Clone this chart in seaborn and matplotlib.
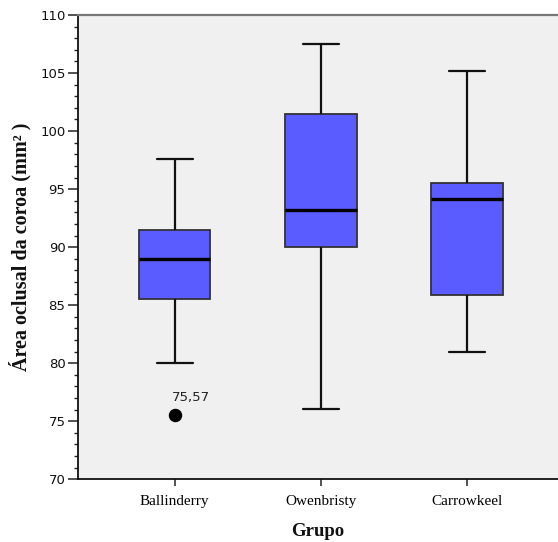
import seaborn as sns
import pandas as pd
import matplotlib.pyplot as plt
from matplotlib.ticker import MultipleLocator

# Data (five-number summaries)
groups = ["Ballinderry", "Owenbristy", "Carrowkeel"]
whisker_low = [80.0, 76.05, 81.0]
q1 = [85.55, 90.04, 85.9]
median = [88.98, 93.2, 94.17]
q3 = [91.47, 101.46, 95.55]
whisker_high = [97.6, 107.5, 105.18]

outlier_group = "Ballinderry"
outlier_value = 75.57
outlier_label = "75,57"

# Long table: five values per group give exactly these quartiles
rows = []
for i, g in enumerate(groups):
    for v in (whisker_low[i], q1[i], median[i], q3[i], whisker_high[i]):
        rows.append({"Grupo": g, "valor": v})
df = pd.DataFrame(rows)

sns.set_theme(style="white")
plt.rcParams["font.family"] = ["DejaVu Sans"]

fig = plt.figure(figsize=(5.58, 5.42), dpi=100)
ax = fig.add_axes([78 / 558, 1 - 479.3 / 542, 480 / 558, (479.3 - 15) / 542])
ax.set_facecolor("#f0f0f0")

sns.boxplot(
    data=df, x="Grupo", y="valor", order=groups, ax=ax,
    color="#5a5cff", saturation=1, width=0.49, whis=1.5,
    linecolor="#222222", linewidth=1.6, fliersize=0,
    boxprops={"edgecolor": "#333333", "linewidth": 1.3},
    whiskerprops={"color": "#111111", "linewidth": 1.6},
    capprops={"color": "#111111", "linewidth": 1.6},
    medianprops={"color": "black", "linewidth": 2.4},
)

# Outlier point and its label
xo = groups.index(outlier_group)
ax.scatter([xo], [outlier_value], s=75, color="black", zorder=5)
ax.text(xo - 0.02, outlier_value + 0.9, outlier_label, fontsize=9.5,
        color="#222222", ha="left", va="bottom")

ax.set_ylim(70, 110)
ax.set_xlim(-0.66, 2.62)
ax.yaxis.set_major_locator(MultipleLocator(5))
ax.yaxis.set_minor_locator(MultipleLocator(1))
ax.tick_params(axis="y", which="major", direction="out", length=7, width=1.1,
               color="#222222", labelsize=9.5, labelcolor="#111111", pad=2, left=True)
ax.tick_params(axis="y", which="minor", direction="out", length=3, width=1.0,
               color="#222222", left=True)
ax.tick_params(axis="x", direction="out", length=5, width=1.1, color="#222222",
               pad=6, bottom=True)

for lab in ax.get_xticklabels():
    lab.set_fontfamily("Liberation Serif")
    lab.set_fontsize(11)
    lab.set_color("#000000")

ax.spines["right"].set_visible(False)
ax.spines["left"].set_color("#111111")
ax.spines["left"].set_linewidth(1.3)
ax.spines["bottom"].set_color("#111111")
ax.spines["bottom"].set_linewidth(1.3)
ax.spines["top"].set_color("#777777")
ax.spines["top"].set_linewidth(1.6)

ax.set_xlabel("Grupo", fontfamily="Liberation Serif", fontweight="bold",
              fontsize=13.5, color="#111111", labelpad=11)
ax.set_ylabel("Área oclusal da coroa (mm² )", fontfamily="Liberation Serif",
              fontweight="bold", fontsize=14.5, color="#111111", labelpad=6)

fig.savefig("out.png", dpi=100, facecolor="white")
